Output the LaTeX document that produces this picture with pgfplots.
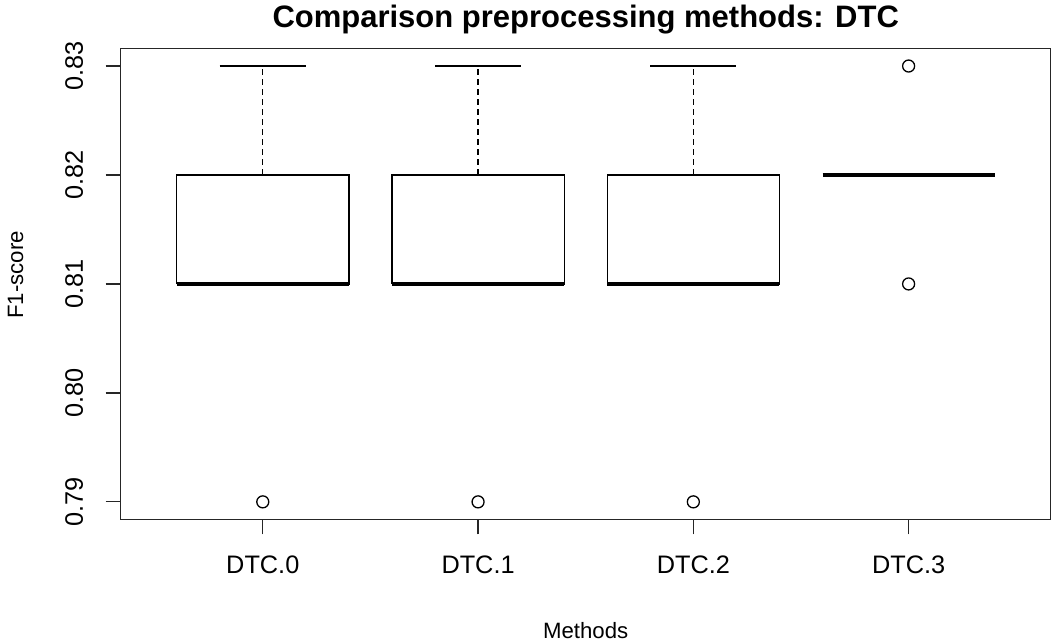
\documentclass[border=0pt]{standalone}
\usepackage{pgfplots}
\pgfplotsset{compat=1.18}
\usepackage{fontspec}
\setmainfont{Liberation Sans}
\begin{document}
\begin{tikzpicture}
\begin{axis}[
  at={(0,0)}, anchor=south west,
  scale only axis, width=930bp, height=470.7bp,
  xmin=0.34, xmax=4.66, ymin=0.7884, ymax=0.8316,
  axis line style={line width=1.2bp, black!85},
  xtick={1,2,3,4}, xticklabels={DTC.0,DTC.1,DTC.2,DTC.3},
  ytick={0.79,0.80,0.81,0.82,0.83}, yticklabels={0.79,0.80,0.81,0.82,0.83},
  tick align=outside, tick pos=left,
  major tick length=15bp,
  every tick/.style={line width=1.2bp, black!85},
  tick label style={font=\fontsize{25.3bp}{30bp}\selectfont, inner sep=0pt},
  xticklabel style={anchor=base},
  xticklabel shift=39bp,
  yticklabel style={rotate=90, anchor=base},
  yticklabel shift=22.7bp,
  xlabel={Methods},
  ylabel={F1-score},
  label style={font=\fontsize{22.2bp}{26bp}\selectfont, inner sep=0pt},
  xlabel style={at={(axis description cs:0.5,-0.2528)}, anchor=base},
  ylabel style={at={(axis description cs:-0.105,0.519)}, anchor=base, rotate=0},
  title={Comparison preprocessing methods: DTC},
  title style={at={(axis description cs:0.5,1.033)}, anchor=base, inner sep=0pt,
    font=\bfseries\fontsize{31bp}{36bp}\selectfont},
  clip=false,
]
% boxes (lower quartile 0.81, upper quartile 0.82)
\addplot[line width=1.3bp, line join=miter, black] coordinates {(0.6,0.81)(1.4,0.81)(1.4,0.82)(0.6,0.82)(0.6,0.81)};
\addplot[line width=1.3bp, line join=miter, black] coordinates {(1.6,0.81)(2.4,0.81)(2.4,0.82)(1.6,0.82)(1.6,0.81)};
\addplot[line width=1.3bp, line join=miter, black] coordinates {(2.6,0.81)(3.4,0.81)(3.4,0.82)(2.6,0.82)(2.6,0.81)};
% upper whiskers (dashed)
\addplot[line width=1.2bp, dash pattern=on 6bp off 4bp, black] coordinates {(1,0.82)(1,0.83)};
\addplot[line width=1.2bp, dash pattern=on 6bp off 4bp, black] coordinates {(2,0.82)(2,0.83)};
\addplot[line width=1.2bp, dash pattern=on 6bp off 4bp, black] coordinates {(3,0.82)(3,0.83)};
% staples
\addplot[line width=1.2bp, black] coordinates {(0.8,0.83)(1.2,0.83)};
\addplot[line width=1.2bp, black] coordinates {(1.8,0.83)(2.2,0.83)};
\addplot[line width=1.2bp, black] coordinates {(2.8,0.83)(3.2,0.83)};
\addplot[line width=1.2bp, black] coordinates {(0.8,0.81)(1.2,0.81)};
\addplot[line width=1.2bp, black] coordinates {(1.8,0.81)(2.2,0.81)};
\addplot[line width=1.2bp, black] coordinates {(2.8,0.81)(3.2,0.81)};
% medians
\addplot[line width=4bp, black] coordinates {(0.6,0.81)(1.4,0.81)};
\addplot[line width=4bp, black] coordinates {(1.6,0.81)(2.4,0.81)};
\addplot[line width=4bp, black] coordinates {(2.6,0.81)(3.4,0.81)};
\addplot[line width=4bp, black] coordinates {(3.6,0.82)(4.4,0.82)};
% outliers
\addplot[only marks, mark=o, mark size=6bp, mark options={line width=1.3bp, black}] coordinates {(1,0.79)(2,0.79)(3,0.79)(4,0.83)(4,0.81)};
\end{axis}
\pgfresetboundingbox
\useasboundingbox (-120.7bp,-122.7bp) rectangle (932.3bp,519.3bp);
\end{tikzpicture}
\end{document}
